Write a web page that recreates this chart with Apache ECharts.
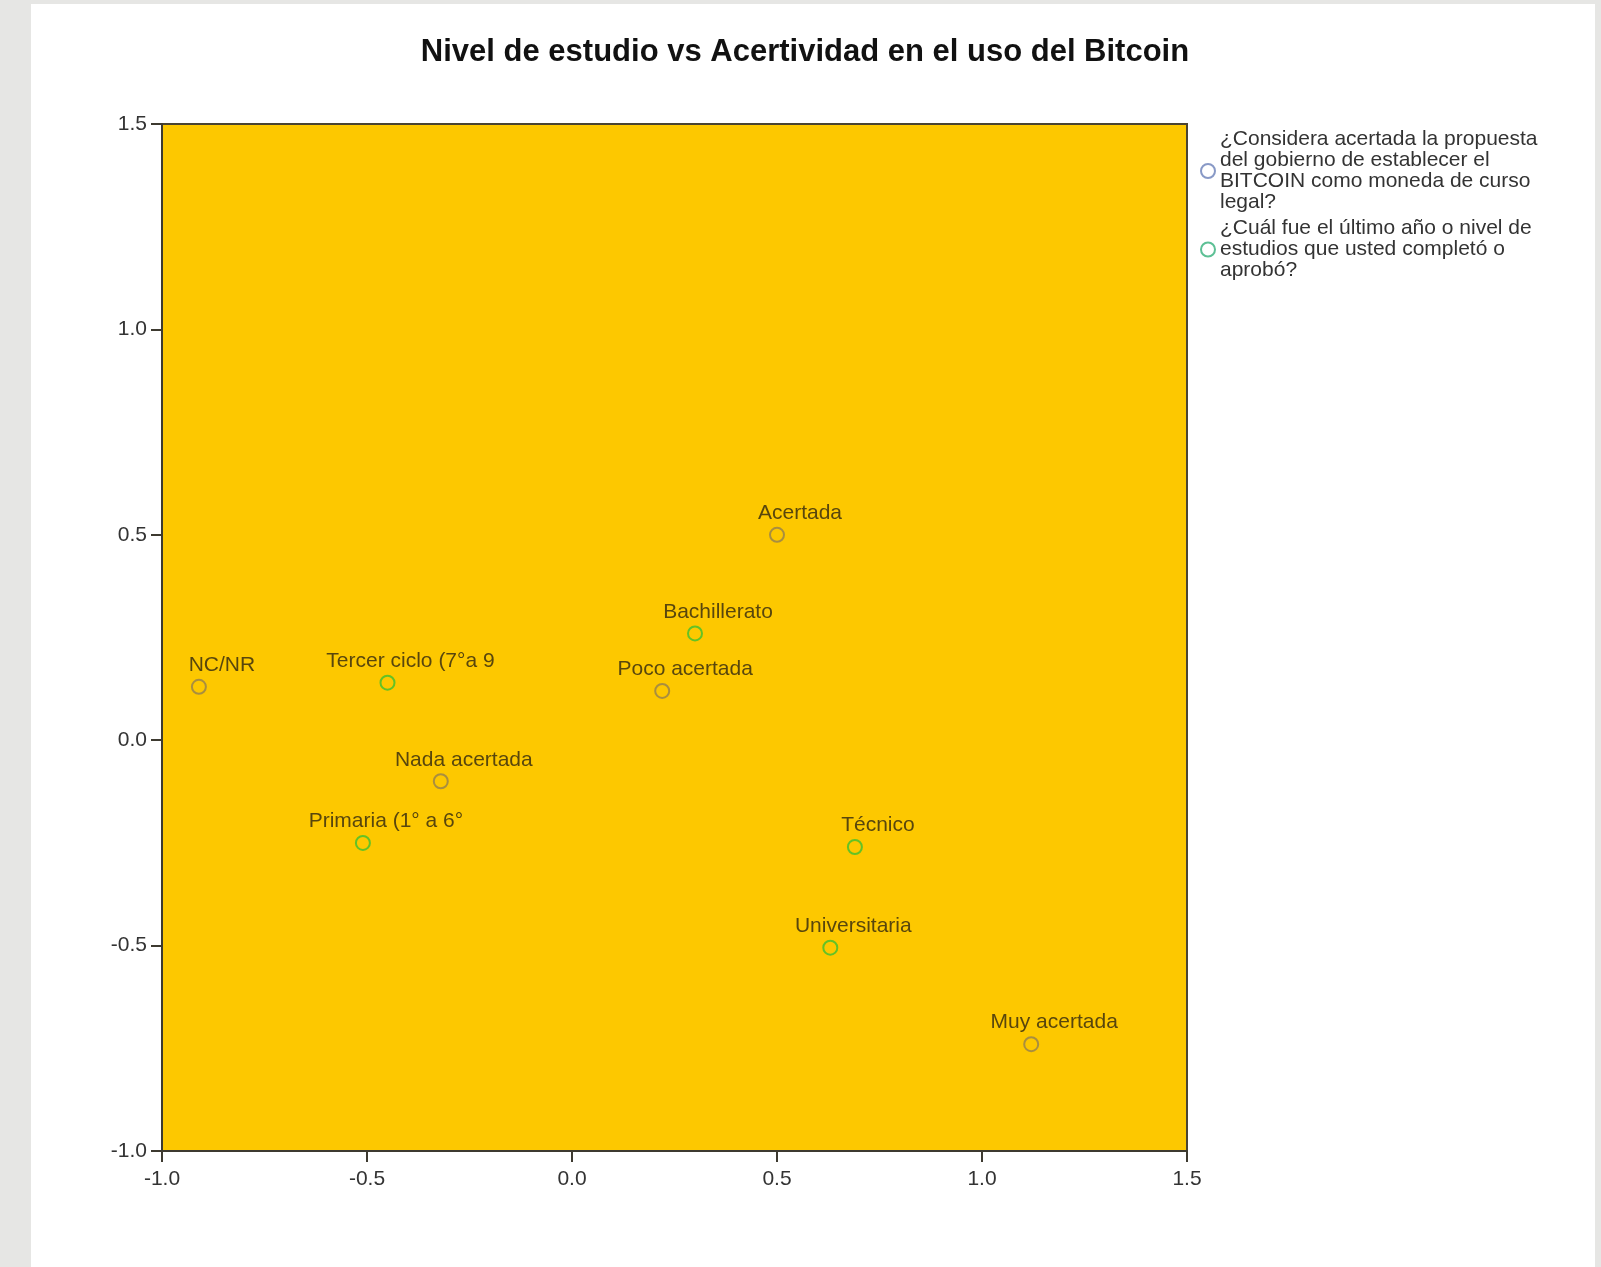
<!DOCTYPE html>
<html>
<head>
<meta charset="utf-8">
<title>Nivel de estudio vs Acertividad en el uso del Bitcoin</title>
<script src="https://cdn.jsdelivr.net/npm/echarts@6/dist/echarts.min.js"></script>
<style>
  html, body { margin: 0; padding: 0; }
  body { width: 1601px; height: 1267px; background: #e6e6e4; position: relative; overflow: hidden; }
  #panel { position: absolute; left: 31px; top: 4px; width: 1564px; height: 1263px; background: #fff; }
</style>
</head>
<body>
<div id="panel"></div>
<script>
// ¿Considera acertada la propuesta...? (categorías de opinión)
const opinionNames = ['Acertada', 'Poco acertada', 'NC/NR', 'Nada acertada', 'Muy acertada'];
const opinionX = [0.50, 0.22, -0.91, -0.32, 1.12];
const opinionY = [0.50, 0.12, 0.13, -0.10, -0.74];

// ¿Cuál fue el último año o nivel de estudios...? (categorías de estudio)
const studyNames = ['Bachillerato', 'Tercer ciclo (7°a 9', 'Primaria (1° a 6°', 'Técnico', 'Universitaria'];
const studyX = [0.30, -0.45, -0.51, 0.69, 0.63];
const studyY = [0.26, 0.14, -0.25, -0.26, -0.505];

const axisTicks = [-1.0, -0.5, 0.0, 0.5, 1.0, 1.5];

const seriesNames = ['opinion', 'estudio'];
const legendTexts = [
  '¿Considera acertada la propuesta\ndel gobierno de establecer el\nBITCOIN como moneda de curso\nlegal?',
  '¿Cuál fue el último año o nivel de\nestudios que usted completó o\naprobó?'
];

const font = 'Liberation Sans, Arial, sans-serif';

function toPoints(names, xs, ys) {
  return names.map((n, i) => ({ name: n, value: [xs[i], ys[i]] }));
}

const chart = echarts.init(document.getElementById('panel'), null, { renderer: 'canvas' });

const axisCommon = {
  type: 'value',
  min: axisTicks[0],
  max: axisTicks[axisTicks.length - 1],
  interval: 0.5,
  splitLine: { show: false },
  axisLine: { show: true, onZero: false, lineStyle: { color: '#3d3a30', width: 2 } },
  axisTick: { show: true, inside: false, length: 11, lineStyle: { color: '#3d3a30', width: 2 } },
  axisLabel: {
    color: '#333',
    fontSize: 21,
    fontFamily: font,
    formatter: v => v.toFixed(1)
  }
};

const labelStyle = {
  show: true,
  position: 'top',
  distance: 5,
  offset: [23, 2],
  formatter: '{b}',
  color: '#2e2610',
  fontSize: 21,
  fontFamily: font
};

chart.setOption({
  animation: false,
  title: {
    text: 'Nivel de estudio vs Acertividad en el uso del Bitcoin',
    left: 769,
    textAlign: 'center',
    top: 28,
    textStyle: { color: '#111', fontSize: 31, fontWeight: 'bold', fontFamily: font }
  },
  grid: {
    left: 131,
    top: 120,
    width: 1025,
    height: 1027,
    show: true,
    backgroundColor: '#fdc800',
    borderColor: '#4a4432',
    borderWidth: 2
  },
  legend: {
    orient: 'vertical',
    left: 1169,
    top: 125,
    padding: 0,
    itemGap: 5,
    itemWidth: 14,
    itemHeight: 14,
    selectedMode: false,
    formatter: name => legendTexts[seriesNames.indexOf(name)],
    textStyle: { color: '#333', fontSize: 21, lineHeight: 21, fontFamily: font },
    data: [
      { name: seriesNames[0], icon: 'circle', itemStyle: { color: '#fff', borderColor: '#6a7fb8', borderWidth: 2 } },
      { name: seriesNames[1], icon: 'circle', itemStyle: { color: '#fff', borderColor: '#35b07a', borderWidth: 2 } }
    ]
  },
  xAxis: { ...axisCommon, axisLabel: { ...axisCommon.axisLabel, margin: 18 } },
  yAxis: { ...axisCommon, axisLabel: { ...axisCommon.axisLabel, margin: 15 } },
  series: [
    {
      name: seriesNames[0],
      type: 'scatter',
      symbol: 'circle',
      symbolSize: 14,
      itemStyle: { color: 'rgba(0,0,0,0)', borderColor: '#94804f', borderWidth: 2 },
      label: labelStyle,
      data: toPoints(opinionNames, opinionX, opinionY)
    },
    {
      name: seriesNames[1],
      type: 'scatter',
      symbol: 'circle',
      symbolSize: 14,
      itemStyle: { color: 'rgba(0,0,0,0)', borderColor: '#3cc030', borderWidth: 2 },
      label: labelStyle,
      data: toPoints(studyNames, studyX, studyY)
    }
  ]
});

window.addEventListener('resize', () => chart.resize());
</script>
</body>
</html>
